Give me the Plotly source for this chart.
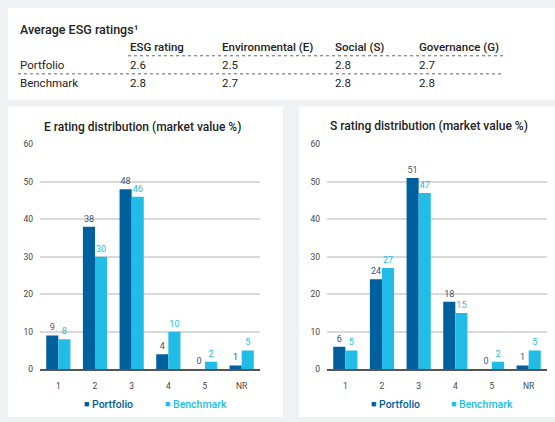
import plotly.graph_objects as go

# ---- data ----
categories = ["1", "2", "3", "4", "5", "NR"]
e_portfolio = [9, 38, 48, 4, 0, 1]
e_benchmark = [8, 30, 46, 10, 2, 5]
s_portfolio = [6, 24, 51, 18, 0, 1]
s_benchmark = [5, 27, 47, 15, 2, 5]

table_title = "Average ESG ratings\u00b9"
table_columns = ["ESG rating", "Environmental (E)", "Social (S)", "Governance (G)"]
table_rows = ["Portfolio", "Benchmark"]
portfolio_ratings = ["2.6", "2.5", "2.8", "2.7"]
benchmark_ratings = ["2.8", "2.7", "2.8", "2.8"]

W, H = 555, 422
DARK = "#00609e"
LIGHT = "#22bde7"
TEXT = "#222222"
BG = "#eef2f4"
FONT = "Roboto"


def px(x):
    return x / W


def py(y):
    return 1 - y / H


fig = go.Figure()

panels = [("x", "y", e_portfolio, e_benchmark), ("x2", "y2", s_portfolio, s_benchmark)]
for xa, ya, port, bench in panels:
    fig.add_trace(go.Bar(
        x=categories, y=port, name="Portfolio", xaxis=xa, yaxis=ya,
        marker=dict(color=DARK, line=dict(width=0)),
        text=[str(v) for v in port], textposition="outside",
        textfont=dict(family=FONT, size=9, color="#3e5270"),
        cliponaxis=False, showlegend=False, hoverinfo="skip",
    ))
    fig.add_trace(go.Bar(
        x=categories, y=bench, name="Benchmark", xaxis=xa, yaxis=ya,
        marker=dict(color=LIGHT, line=dict(width=0)),
        text=[str(v) for v in bench], textposition="outside",
        textfont=dict(family=FONT, size=9, color=LIGHT),
        cliponaxis=False, showlegend=False, hoverinfo="skip",
    ))

axis_common = dict(showgrid=False, showline=True, linecolor="#555555", linewidth=2,
                   tickfont=dict(family=FONT, size=8.5, color="#444444"), ticks="",
                   ticklabelstandoff=8, fixedrange=True)
yaxis_common = dict(range=[0, 60], dtick=10, showgrid=True, gridcolor="#d9d9d9",
                    gridwidth=1.5, zeroline=False, showline=False, ticks="",
                    tickfont=dict(family=FONT, size=8.5, color="#444444"),
                    ticklabelstandoff=6, fixedrange=True)

y_dom = [py(373), py(142.5)]
fig.update_layout(
    width=W, height=H,
    margin=dict(l=0, r=0, t=0, b=0),
    paper_bgcolor=BG, plot_bgcolor="rgba(0,0,0,0)",
    barmode="group", bargap=0.34, bargroupgap=0,
    font=dict(family=FONT, color=TEXT),
    xaxis=dict(domain=[px(40), px(260)], anchor="y", **axis_common),
    yaxis=dict(domain=y_dom, anchor="x", **yaxis_common),
    xaxis2=dict(domain=[px(327), px(547)], anchor="y2", **axis_common),
    yaxis2=dict(domain=y_dom, anchor="x2", **yaxis_common),
)

shapes = [
    # white panels
    dict(type="rect", xref="paper", yref="paper", x0=px(8), x1=1, y0=py(97), y1=py(3),
         fillcolor="white", line=dict(width=0), layer="below"),
    dict(type="rect", xref="paper", yref="paper", x0=px(8), x1=px(283), y0=0, y1=py(104),
         fillcolor="white", line=dict(width=0), layer="below"),
    dict(type="rect", xref="paper", yref="paper", x0=px(299), x1=1, y0=0, y1=py(104),
         fillcolor="white", line=dict(width=0), layer="below"),
    # dotted table rules
    dict(type="line", xref="paper", yref="paper", x0=px(128), x1=px(503), y0=py(52), y1=py(52),
         line=dict(color="#666666", width=1, dash="dot")),
    dict(type="line", xref="paper", yref="paper", x0=px(18), x1=px(503), y0=py(70.5), y1=py(70.5),
         line=dict(color="#666666", width=1, dash="dot")),
]

annotations = []


def label(text, x, y, size=11, color=TEXT, weight=400, xanchor="left"):
    annotations.append(dict(text=text, x=px(x), y=py(y), xref="paper", yref="paper",
                            xanchor=xanchor, yanchor="middle", showarrow=False,
                            font=dict(family=FONT, size=size, color=color, weight=weight)))


# table
label(table_title, 18, 25, size=12.5, weight=500)
col_x = [128, 220, 333, 417]
for cx, head in zip(col_x, table_columns):
    label(head, cx, 43, size=11.5, weight=500)
for row_name, vals, ry in [(table_rows[0], portfolio_ratings, 61), (table_rows[1], benchmark_ratings, 80)]:
    label(row_name, 18, ry, size=11.5)
    for cx, v in zip(col_x, vals):
        label(v, cx, ry, size=11.5)

# chart titles
label("E rating distribution (market value %)", 142, 125, size=12, weight=500, xanchor="center")
label("S rating distribution (market value %)", 429, 124, size=12, weight=500, xanchor="center")

# legends
for lx, bx in [(84, 165), (371, 451)]:
    label("\u25a0", lx - 2, 409, size=9, color=DARK)
    label("Portfolio", lx + 6, 409, size=10.5, color=DARK, weight=500)
    label("\u25a0", bx - 2, 409, size=9, color=LIGHT)
    label("Benchmark", bx + 6, 409, size=10.5, color=LIGHT, weight=500)

fig.update_layout(shapes=shapes, annotations=annotations)
fig.write_html("out.html")
